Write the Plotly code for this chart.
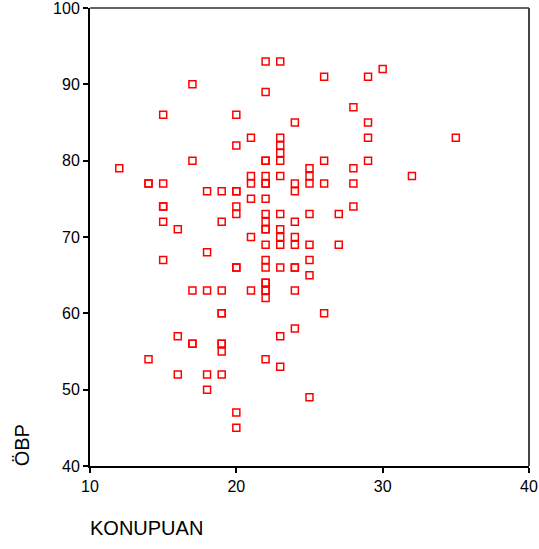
import plotly.graph_objects as go

# KONUPUAN (x) and ÖBP (y) values
konupuan = [22, 23, 26, 29, 30, 17, 22, 28, 15, 20, 24, 29, 21, 23, 29, 35, 20, 23, 23,
            17, 22, 22, 23, 26, 29,
            12, 25, 28,
            21, 22, 23, 25, 32,
            14, 14, 15, 21, 22, 22, 24, 25, 26, 28,
            18, 19, 20, 20, 24,
            21, 22,
            15, 15, 20, 28,
            20, 22, 23, 25, 27,
            15, 19, 22, 24,
            16, 22, 22, 23,
            21, 23, 24,
            22, 23, 24, 25, 27,
            18,
            15, 22, 25,
            20, 20, 22, 23, 24, 24,
            25,
            22, 22,
            17, 18, 19, 21, 22, 22, 24,
            22,
            19, 19, 26,
            24,
            16, 23,
            17, 17, 19, 19,
            19,
            14, 22,
            23,
            16, 18, 19,
            18,
            25,
            20,
            20]
obp = [93, 93, 91, 91, 92, 90, 89, 87, 86, 86, 85, 85, 83, 83, 83, 83, 82, 82, 81,
       80, 80, 80, 80, 80, 80,
       79, 79, 79,
       78, 78, 78, 78, 78,
       77, 77, 77, 77, 77, 77, 77, 77, 77, 77,
       76, 76, 76, 76, 76,
       75, 75,
       74, 74, 74, 74,
       73, 73, 73, 73, 73,
       72, 72, 72, 72,
       71, 71, 71, 71,
       70, 70, 70,
       69, 69, 69, 69, 69,
       68,
       67, 67, 67,
       66, 66, 66, 66, 66, 66,
       65,
       64, 64,
       63, 63, 63, 63, 63, 63, 63,
       62,
       60, 60, 60,
       58,
       57, 57,
       56, 56, 56, 56,
       55,
       54, 54,
       53,
       52, 52, 52,
       50,
       49,
       47,
       45]

x_ticks = [10, 20, 30, 40]
y_ticks = [40, 50, 60, 70, 80, 90, 100]

fig = go.Figure()
fig.add_trace(go.Scatter(
    x=konupuan, y=obp, mode="markers",
    marker=dict(symbol="square-open", size=7, color="#ff0000",
                line=dict(width=1.5, color="#ff0000")),
    showlegend=False, hoverinfo="x+y"))

font = "Liberation Sans, Arial, sans-serif"
axis_common = dict(showgrid=False, zeroline=False, showline=True, linecolor="black",
                   linewidth=2, ticks="outside", ticklen=5, tickwidth=1.5,
                   tickcolor="black", tickfont=dict(size=16, family=font),
                   automargin=False, ticklabeloverflow="allow")
fig.update_layout(
    width=539, height=549,
    margin=dict(l=90, r=10, t=8, b=83),
    paper_bgcolor="white", plot_bgcolor="white",
    font=dict(family=font, size=16, color="black"),
    xaxis=dict(range=[10, 40], tickvals=x_ticks, ticktext=[str(v) for v in x_ticks],
               **axis_common),
    yaxis=dict(range=[40, 100], tickvals=y_ticks, ticktext=[str(v) for v in y_ticks],
               **axis_common),
    shapes=[
        dict(type="line", xref="paper", yref="paper", x0=0, x1=1, y0=1, y1=1,
             line=dict(color="#333333", width=1.5)),
        dict(type="line", xref="paper", yref="paper", x0=1, x1=1, y0=0, y1=1,
             line=dict(color="#444444", width=2)),
    ],
    annotations=[
        dict(text="ÖBP", xref="paper", yref="paper", x=-0.155, y=0.045,
             xanchor="center", yanchor="middle", textangle=-90, showarrow=False,
             font=dict(size=20, family=font, color="black")),
        dict(text="KONUPUAN", xref="paper", yref="paper", x=-0.005, y=-0.135,
             xanchor="left", yanchor="middle", showarrow=False,
             font=dict(size=20, family=font, color="black")),
    ],
)

fig.write_html("out.html")
